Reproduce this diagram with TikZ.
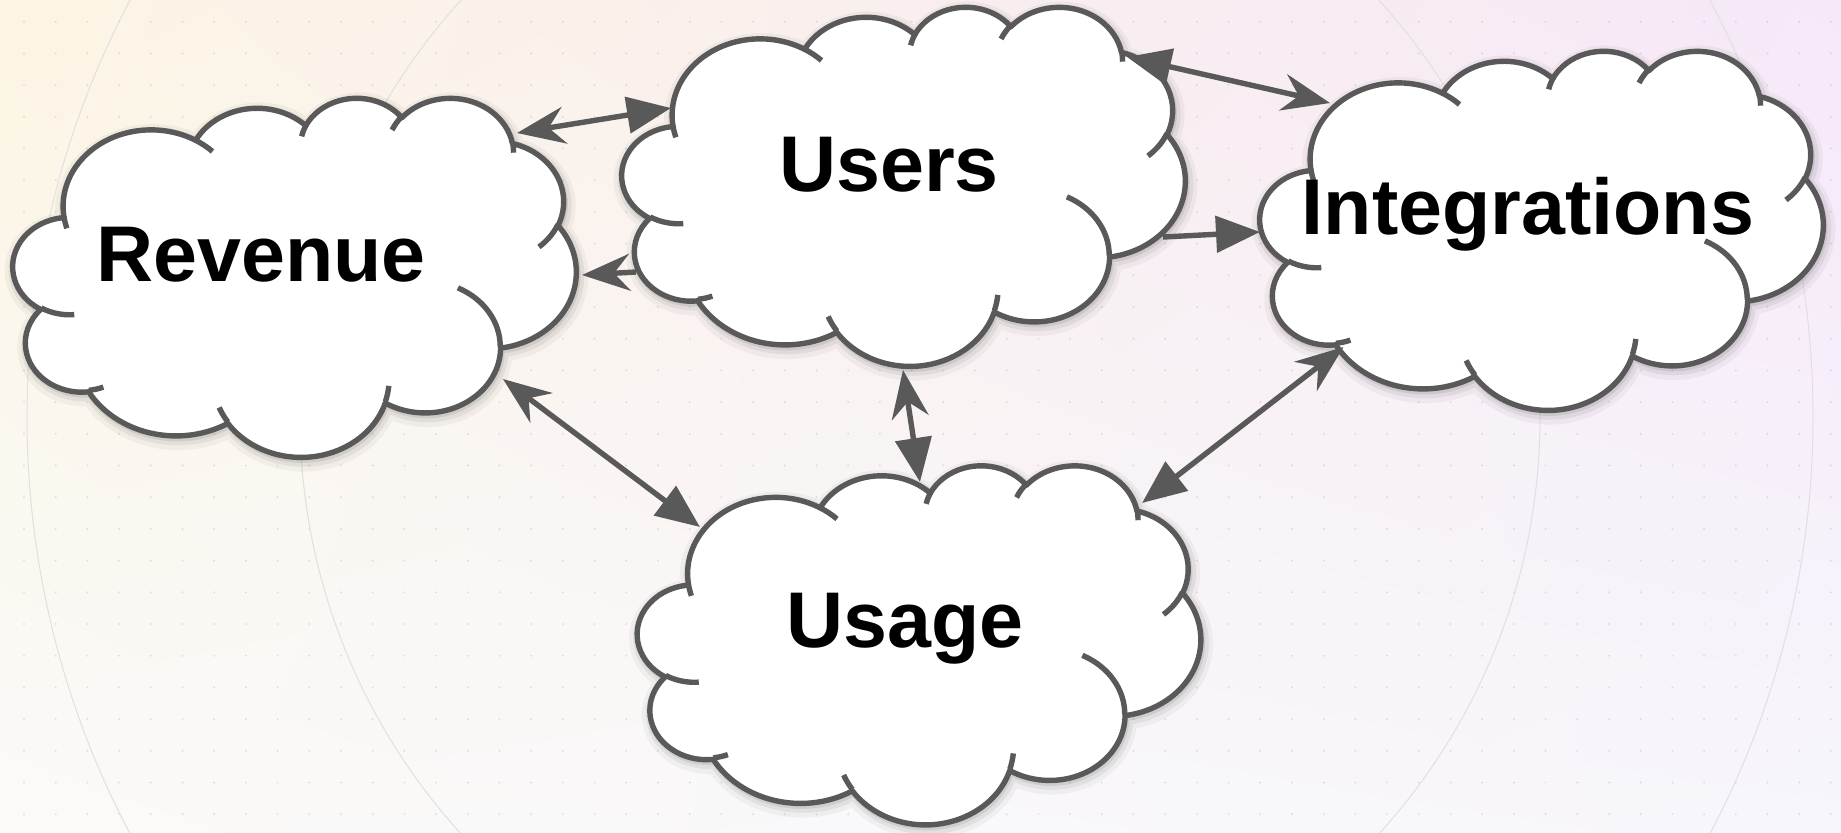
\documentclass[tikz,border=0pt]{standalone}
\usepackage{fontspec}
\setmainfont{Liberation Sans}
\usetikzlibrary{arrows.meta,shadings}
\definecolor{edge}{RGB}{89,89,89}
\definecolor{bgUL}{RGB}{252,245,228}
\definecolor{bgUR}{RGB}{246,232,248}
\definecolor{bgLL}{RGB}{251,250,248}
\definecolor{bgLR}{RGB}{247,246,252}
\tikzset{
  x=0.5pt, y=-0.5pt,
  carc/.style n args={4}{insert path={arc[x radius=#1, y radius=#2,
    start angle={atan2((#1)*sin(#3),(#2)*cos(#3))},
    delta angle={mod(atan2((#1)*sin((#3)+(#4)),(#2)*cos((#3)+(#4)))-atan2((#1)*sin(#3),(#2)*cos(#3))+720,360)}]}},
  cloudouter/.style={insert path={
    [carc={67.53}{91.90}{-190.4875}{123.7805}]
    [carc={53.33}{72.67}{-144.1024}{89.9452}]
    [carc={43.65}{59.45}{-145.8079}{99.7230}]
    [carc={48.57}{65.95}{-130.9861}{117.2417}]
    [carc={53.33}{72.73}{-78.7089}{109.0269}]
    [carc={67.75}{92.20}{-46.2673}{130.2690}]
    [carc={57.85}{78.67}{0.6250}{114.0333}]
    [carc={67.52}{92.15}{22.4516}{115.1726}]
    [carc={77.20}{105.43}{66.2426}{75.7110}]
    [carc={43.60}{59.18}{-274.9421}{146.7356}]
    [carc={43.45}{59.45}{-246.8285}{152.5189}] -- cycle}},
  cloudinner/.style={insert path={
    [carc={43.45}{59.45}{86.7420}{26.4295}]
    (69.28,348.99) [carc={43.60}{59.18}{73.6105}{11.4475}]
    (164.78,390.90) [carc={67.52}{92.15}{137.6242}{14.0811}]
    (288.27,347.51) [carc={67.52}{92.15}{6.4533}{15.9984}]
    (341.29,229.54) [carc={57.85}{78.67}{-70.2924}{70.9174}]
    (417.98,153.54) [carc={53.33}{72.73}{30.3180}{27.7515}]
    (383.24,54.26) [carc={48.57}{65.95}{-13.7443}{14.8589}]
    (290.78,39.52) [carc={48.57}{65.95}{-149.1815}{18.1954}]
    (221.41,47.20) [carc={43.65}{59.45}{-163.4943}{17.6864}]
    (140.00,51.92) [carc={67.53}{91.90}{-66.7070}{12.3194}]
    (41.27,157.89) [carc={67.53}{91.90}{157.6544}{11.8582}]}},
  cloudnode/.style={rectangle, inner sep=0pt, minimum width=281.5pt, minimum height=179.5pt},
  cloudbody/.style={fill=white, draw=edge, line width=2.7pt, line join=round},
  cloudline/.style={draw=edge, line width=2.7pt},
  shd/.style={draw=black, line join=round},
  lbl/.style={font=\fontsize{39.5}{46}\selectfont\bfseries, inner sep=0pt, text=black, anchor=base},
  conn/.style={draw=edge, line width=2.7pt},
  clsc/.tip={Stealth[length=24pt, width=18.5pt, inset=8pt]},
  blck/.tip={Triangle[length=22pt, width=18pt]},
  dotc/.style={fill=black, opacity=0.10},
  ringc/.style={draw=black!12, line width=0.5pt}
}
\newcommand\drawcloud[1]{%
  \begin{scope}[shift={(#1.north west)}, xscale=563/432, yscale=359/432]
    \draw[shd, line width=10pt, opacity=0.04, shift={(1.5,5)}] (39.00,143.70) [cloudouter];
    \draw[shd, line width=6pt, opacity=0.06, shift={(1.5,4)}] (39.00,143.70) [cloudouter];
    \draw[shd, line width=3pt, opacity=0.08, shift={(1,3)}] (39.00,143.70) [cloudouter];
    \path[cloudbody] (39.00,143.70) [cloudouter];
    \path[cloudline] (46.93,261.77) [cloudinner];
  \end{scope}}
\begin{document}
\begin{tikzpicture}
\useasboundingbox (0,0) rectangle (1841,832);
\shade[upper left=bgUL, upper right=bgUR, lower left=bgLL, lower right=bgLR] (0,0) rectangle (1841,832);
\foreach \i in {0,...,57}{\foreach \j in {0,...,25}{\fill[dotc] (24+31.7*\i,21.7+31.7*\j) circle[radius=1.1];}}
\draw[ringc] (920,417) circle[radius=620];
\draw[ringc] (920,417) circle[radius=893];
% cloud nodes
\node[cloudnode] (rev) at (295,277) {};
\node[cloudnode] (usr) at (904,186) {};
\node[cloudnode] (int) at (1542,230) {};
\node[cloudnode] (usg) at (919.5,644.5) {};
\drawcloud{rev}
\drawcloud{usr}
\drawcloud{int}
\drawcloud{usg}
\node[lbl] (revl) at ([shift={(-34,4)}]rev.center) {Revenue};
\node[lbl] (usrl) at ([shift={(-15,5)}]usr.center) {Users};
\node[lbl] (intl) at ([shift={(-14,4)}]int.center) {Integrations};
\node[lbl] (usgl) at ([shift={(-14.5,2.5)}]usg.center) {Usage};
% connectors
\draw[conn, clsc-blck] ([shift={(222,-144)}]rev.center) -- ([shift={(-233,-78)}]usr.center);
\draw[conn, -clsc] ([shift={(-268,86)}]usr.center) -- ([shift={(287,-2)}]rev.center);
\draw[conn, blck-clsc] ([shift={(223,-129)}]usr.center) -- ([shift={(-212,-127)}]int.center);
\draw[conn, -blck] ([shift={(259,51)}]usr.center) -- ([shift={(-282,2)}]int.center);
\draw[conn, clsc-blck] ([shift={(208,102)}]rev.center) -- ([shift={(-219.5,-117.5)}]usg.center);
\draw[conn, clsc-blck] ([shift={(-1,184)}]usr.center) -- ([shift={(0.5,-162.5)}]usg.center);
\draw[conn, clsc-blck] ([shift={(-198.5,117)}]int.center) -- ([shift={(222.5,-141.5)}]usg.center);
\end{tikzpicture}
\end{document}
